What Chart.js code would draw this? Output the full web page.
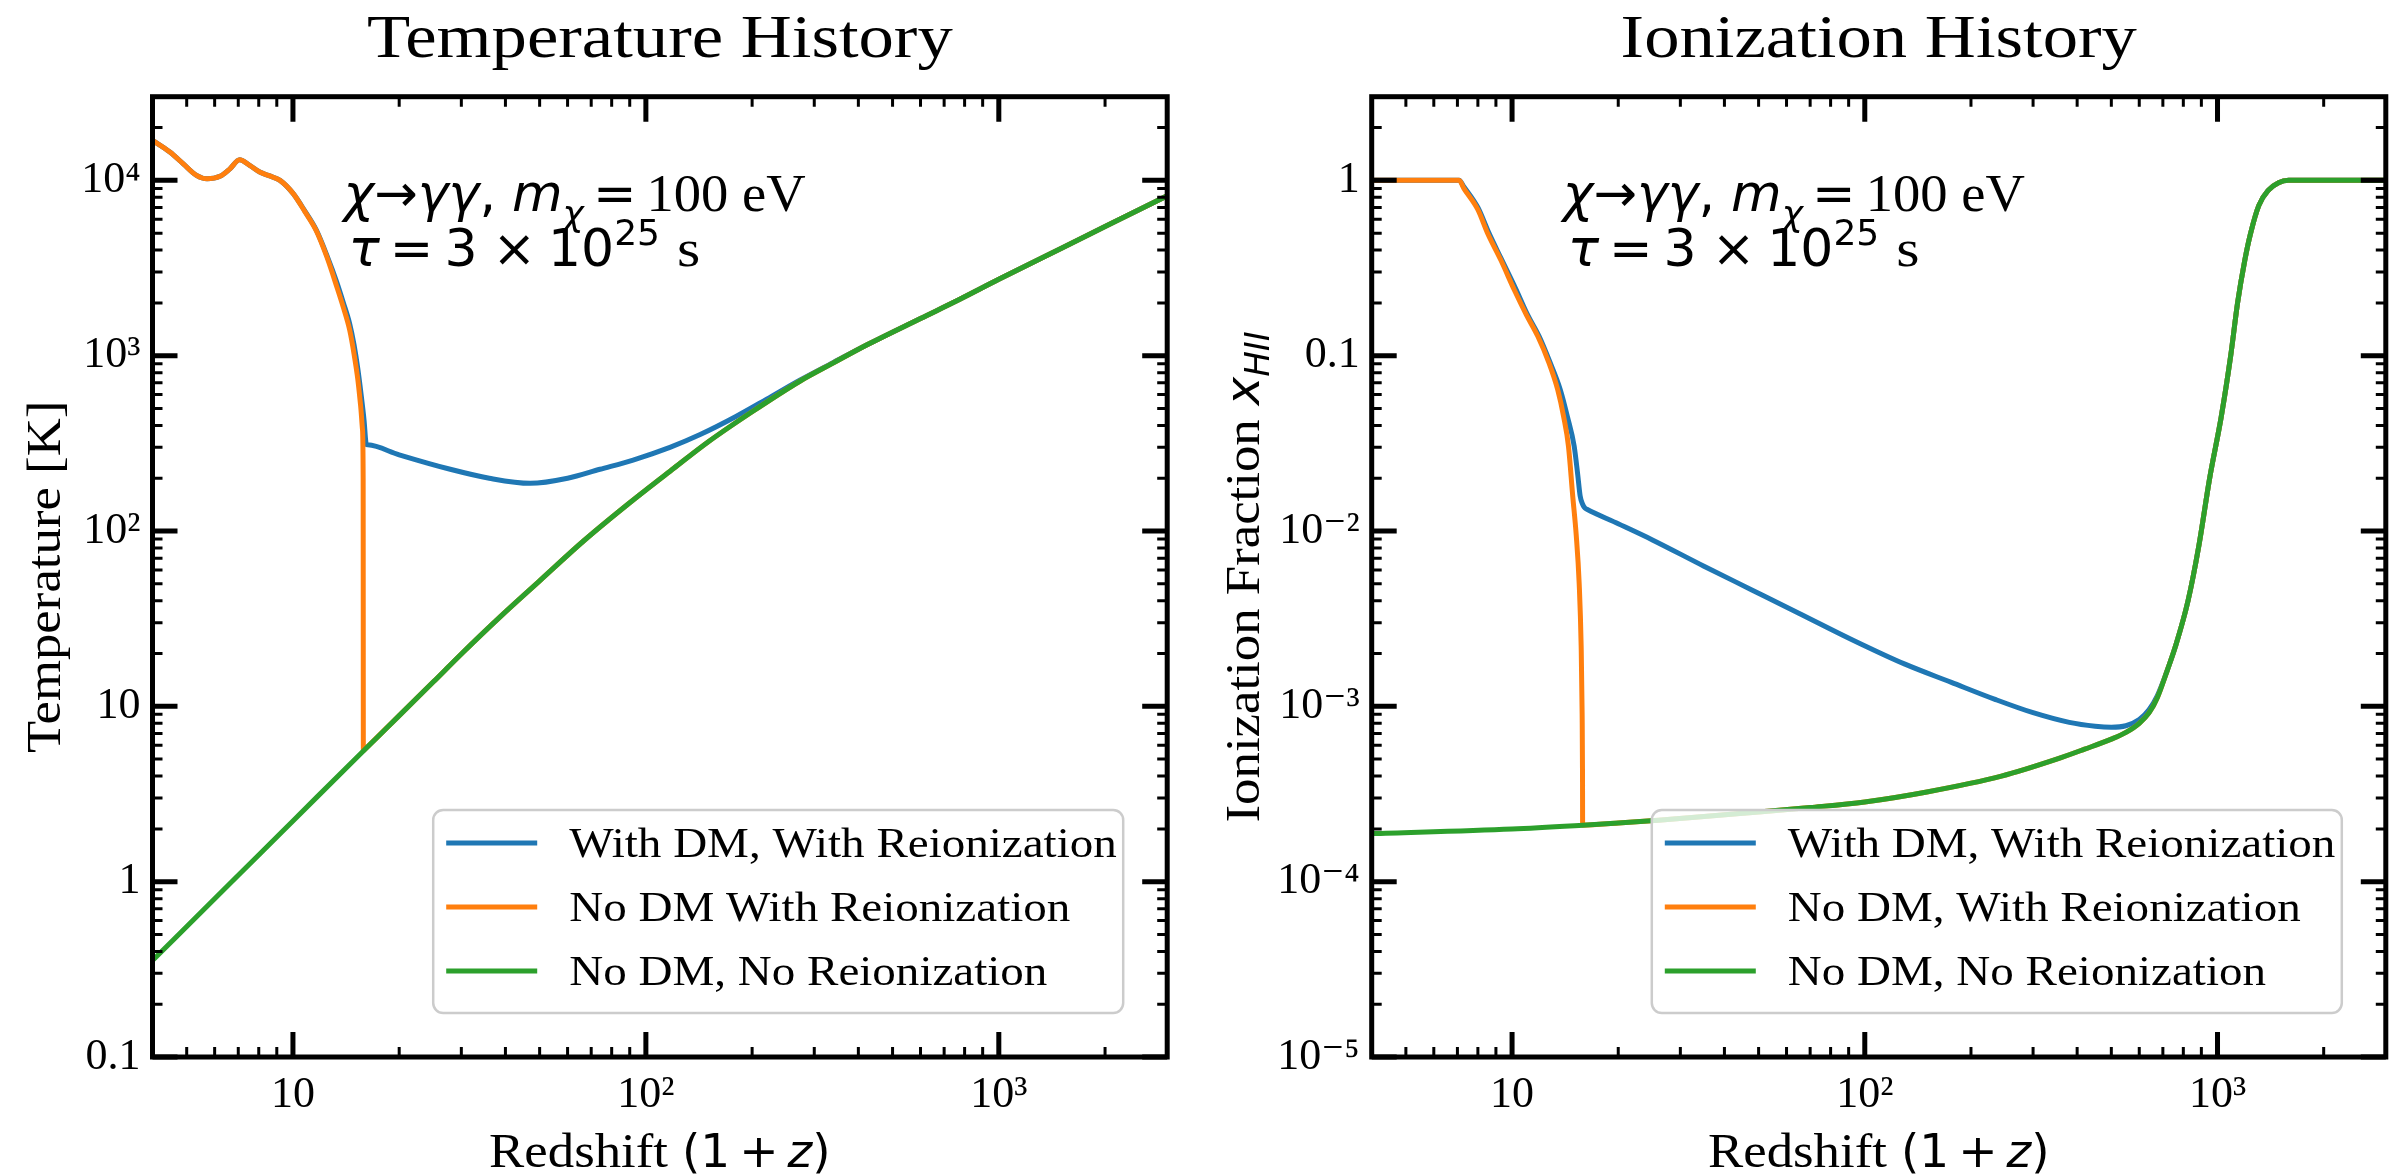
<!DOCTYPE html>
<html>
<head>
<meta charset="utf-8">
<title>Temperature and Ionization History</title>
<script src="https://cdn.jsdelivr.net/npm/chart.js@4.4.1/dist/chart.umd.min.js"></script>
<style>
    html, body { margin: 0; padding: 0; background: #fff; }
    #wrap { position: relative; width: 2402px; height: 1174px; }
    canvas { position: absolute; top: 0; }
    #temp-chart { left: 0; }
    #ion-chart { left: 1190px; }
</style>
</head>
<body>
<div id="wrap">
    <canvas id="temp-chart" width="1190" height="1174"></canvas>
    <canvas id="ion-chart" width="1212" height="1174"></canvas>
</div>
<script>
// Values, x is the redshift (1 + z)

// Temperature history [K]
const tempDmZ = [4, 4.48, 4.89, 5.33, 5.71, 6.21, 6.63, 7.06, 7.54, 8.05, 8.6, 9.19, 10.02, 10.8, 11.65,
    12.5, 13.29, 13.9, 14.48, 14.9, 15.27, 15.6, 15.9, 16.14, 16.3, 20, 27.9, 36, 47, 60,
    74.1, 92, 117, 142.5, 180, 220, 273, 340, 422, 600, 773, 1000, 1500, 2000, 3000];
const tempDmT = [16900, 14500, 12420, 10670, 10200, 10540, 11640, 13100, 12170, 11150, 10600, 10000, 8400, 6700, 5200,
    3700, 2650, 2000, 1520, 1150, 840, 600, 430, 312, 310, 272, 225, 200, 187, 200,
    225, 254, 300, 355, 450, 565, 725, 915, 1150, 1630, 2090, 2725, 4090, 5450, 8170];

const tempNoDmZ = [4, 4.48, 4.89, 5.33, 5.71, 6.21, 6.63, 7.06, 7.54, 8.05, 8.6, 9.19, 10.02, 10.8, 11.65,
    12.5, 13.29, 13.9, 14.48, 14.9, 15.27, 15.55, 15.74, 15.81, 15.83, 15.84, 20, 25, 30, 38.7,
    50, 66.7, 90, 120, 150, 200, 273, 340, 422, 600, 773, 1000, 1500, 2000, 3000];
const tempNoDmT = [16900, 14500, 12420, 10670, 10200, 10540, 11640, 13100, 12170, 11150, 10600, 10000, 8400, 6650, 5150,
    3620, 2500, 1880, 1400, 1020, 731, 520, 380, 200, 5.57, 5.577, 8.85, 13.8, 19.9, 32.5,
    52, 88, 145, 228, 322, 479, 715, 910, 1150, 1630, 2090, 2725, 4090, 5450, 8170];

const tempBaseZ = [4, 6, 8, 10, 15.83, 20, 25, 30, 38.7, 50, 66.7, 90, 120, 150, 200, 273, 340, 422,
    600, 773, 1000, 1500, 2000, 3000];
const tempBaseT = [0.355, 0.8, 1.42, 2.22, 5.57, 8.85, 13.8, 19.9, 32.5, 52, 88, 145, 228, 322, 479, 715, 910, 1150,
    1630, 2090, 2725, 4090, 5450, 8170];

// Ionization fraction x_HII
const ionDmZ = [4, 7.08, 7.3, 8.0, 8.6, 9.3, 10.25, 11.05, 11.95, 12.8, 13.7, 14.35, 15.0, 15.35, 15.6,
    15.85, 16.1, 16.3, 20, 25, 35, 48, 65, 92, 130, 176, 233, 300, 380, 450,
    500, 550, 600, 640, 675, 720, 760, 825, 885, 950, 1025, 1090, 1140, 1195, 1240,
    1310, 1395, 1490, 1590, 2000, 3000];
const ionDmX = [1, 1, 0.92, 0.7, 0.5, 0.36, 0.24, 0.172, 0.128, 0.092, 0.064, 0.045, 0.0305, 0.021, 0.0158,
    0.0142, 0.0135, 0.0133, 0.011, 0.0089, 0.0063, 0.0046, 0.0034, 0.0024, 0.00174, 0.00137, 0.0011, 0.00092, 0.00081, 0.00077,
    0.00076, 0.000775, 0.00084, 0.00096, 0.00115, 0.0016, 0.0022, 0.004, 0.0082, 0.02, 0.045, 0.1, 0.2, 0.35, 0.495,
    0.72, 0.88, 0.97, 1, 1, 1];

const ionNoDmZ = [4, 7.08, 7.3, 8.0, 8.53, 9.3, 10.15, 11.0, 11.83, 12.7, 13.47, 14.0, 14.45, 14.86, 15.2,
    15.5, 15.7, 15.8, 15.84, 15.85, 20, 26, 35, 50, 70, 100, 150, 244, 350, 420,
    500, 550, 600, 640, 675, 720, 760, 825, 885, 950, 1025, 1090, 1140, 1195, 1240,
    1310, 1395, 1490, 1590, 2000, 3000];
const ionNoDmX = [1, 1, 0.9, 0.68, 0.497, 0.35, 0.237, 0.17, 0.129, 0.092, 0.064, 0.045, 0.0305, 0.0158, 0.0095,
    0.005, 0.0022, 0.0009, 0.0004, 0.00021, 0.000216, 0.000224, 0.000235, 0.00025, 0.000265, 0.000285, 0.000325, 0.0004, 0.0005, 0.00057,
    0.00065, 0.00071, 0.0008, 0.00092, 0.00112, 0.0016, 0.0022, 0.004, 0.0082, 0.02, 0.045, 0.1, 0.2, 0.35, 0.495,
    0.72, 0.88, 0.97, 1, 1, 1];

const ionBaseZ = [4, 10, 15.85, 20, 26, 35, 50, 70, 100, 150, 244, 350, 420, 500, 550,
    600, 640, 675, 720, 760, 825, 885, 950, 1025, 1090, 1140, 1195, 1240, 1310, 1395,
    1490, 1590, 2000, 3000];
const ionBaseX = [0.000188, 0.0002, 0.00021, 0.000216, 0.000224, 0.000235, 0.00025, 0.000265, 0.000285, 0.000325, 0.0004, 0.0005, 0.00057, 0.00065, 0.00071,
    0.0008, 0.00092, 0.00112, 0.0016, 0.0022, 0.004, 0.0082, 0.02, 0.045, 0.1, 0.2, 0.35, 0.495, 0.72, 0.88,
    0.97, 1, 1, 1];

const tempLabels = ['With DM, With Reionization', 'No DM With Reionization', 'No DM, No Reionization'];
const ionLabels = ['With DM, With Reionization', 'No DM, With Reionization', 'No DM, No Reionization'];

// axes
const xRange = [4, 3000];
const tempRange = [0.1, 30000];
const ionRange = [1e-5, 3];
const xMajorTicks = [10, 100, 1000];
const xTickLabels = ['10', '10²', '10³'];
const tempMajorTicks = [0.1, 1, 10, 100, 1000, 10000];
const tempTickLabels = ['0.1', '1', '10', '10²', '10³', '10⁴'];
const ionMajorTicks = [1e-5, 1e-4, 1e-3, 1e-2, 0.1, 1];
const ionTickLabels = ['10⁻⁵', '10⁻⁴', '10⁻³', '10⁻²', '0.1', '1'];

const COLORS = ['#1f77b4', '#ff7f0e', '#2ca02c'];
const SERIF = "'Liberation Serif', 'DejaVu Serif', serif";
const MATH = "'DejaVu Sans', sans-serif";
const serif = size => `${size}px ${SERIF}`;
const math = (size, italic) => `${italic ? 'italic ' : ''}${size}px ${MATH}`;

function toPoints(xs, ys) {
    return xs.map((x, i) => ({ x: x, y: ys[i] }));
}

function minorTicks(min, max) {
    const out = [];
    for (let e = Math.floor(Math.log10(min)); e <= Math.ceil(Math.log10(max)); e++) {
        for (let m = 2; m <= 9; m++) {
            const v = m * Math.pow(10, e);
            if (v > min * 1.0001 && v < max * 0.9999) out.push(v);
        }
    }
    return out;
}

// draws a run of text pieces (mixed fonts, sub/superscripts) starting from x
function drawParts(ctx, parts, x, y, align) {
    const widths = parts.map(p => {
        if (p.gap) return p.gap;
        ctx.font = p.font;
        return ctx.measureText(p.text).width * (p.sx || 1);
    });
    const total = widths.reduce((a, b) => a + b, 0);
    let cx = align === 'center' ? x - total / 2 : x;
    parts.forEach((p, i) => {
        if (!p.gap) {
            ctx.save();
            ctx.font = p.font;
            ctx.textAlign = 'left';
            ctx.textBaseline = 'alphabetic';
            ctx.translate(cx, y + (p.dy || 0));
            ctx.scale(p.sx || 1, 1);
            ctx.fillText(p.text, 0, 0);
            ctx.restore();
        }
        cx += widths[i];
    });
}

function tickLines(ctx, values, scale, horizontal, area, len, width) {
    ctx.lineWidth = width;
    ctx.beginPath();
    values.forEach(v => {
        const p = scale.getPixelForValue(v);
        if (horizontal) {
            ctx.moveTo(p, area.bottom); ctx.lineTo(p, area.bottom - len);
            ctx.moveTo(p, area.top); ctx.lineTo(p, area.top + len);
        } else {
            ctx.moveTo(area.left, p); ctx.lineTo(area.left + len, p);
            ctx.moveTo(area.right, p); ctx.lineTo(area.right - len, p);
        }
    });
    ctx.stroke();
}

function drawLegend(chart) {
    const ctx = chart.ctx;
    const area = chart.chartArea;
    const w = 690, h = 203;
    const x0 = area.right - 44 - w;
    const y0 = area.bottom - 44 - h;

    ctx.save();
    ctx.beginPath();
    ctx.roundRect(x0, y0, w, h, 10);
    ctx.fillStyle = 'rgba(255,255,255,0.8)';
    ctx.fill();
    ctx.lineWidth = 2.5;
    ctx.strokeStyle = '#cccccc';
    ctx.stroke();

    chart.data.datasets.forEach((ds, i) => {
        const rowY = y0 + 33 + 64 * i;
        ctx.beginPath();
        ctx.lineWidth = 5;
        ctx.strokeStyle = ds.borderColor;
        ctx.moveTo(x0 + 13, rowY);
        ctx.lineTo(x0 + 104, rowY);
        ctx.stroke();
        ctx.fillStyle = '#000';
        drawParts(ctx, [{ text: ds.label, font: serif(42), sx: 1.12 }], x0 + 136, rowY + 14, 'left');
    });
    ctx.restore();
}

const framePlugin = {
    id: 'frame',
    afterDatasetsDraw(chart, args, opts) {
        const ctx = chart.ctx;
        const area = chart.chartArea;
        const xs = chart.scales.x;
        const ys = chart.scales.y;

        drawLegend(chart);

        ctx.save();
        ctx.strokeStyle = '#000';
        ctx.lineCap = 'butt';
        tickLines(ctx, minorTicks(xRange[0], xRange[1]), xs, true, area, 10, 3);
        tickLines(ctx, xMajorTicks, xs, true, area, 25, 5);
        tickLines(ctx, minorTicks(opts.yRange[0], opts.yRange[1]), ys, false, area, 10, 3);
        tickLines(ctx, opts.yTicks, ys, false, area, 25, 5);

        ctx.lineWidth = 5;
        ctx.lineJoin = 'miter';
        ctx.strokeRect(area.left, area.top, area.right - area.left, area.bottom - area.top);

        // decay channel note
        ctx.fillStyle = '#000';
        const nx = area.left + 191;
        const up = math(52), it = math(52, true);
        drawParts(ctx, [
            { text: 'χ', font: it }, { text: '→', font: up }, { text: 'γγ', font: it },
            { text: ',', font: up }, { gap: 16 }, { text: 'm', font: it },
            { text: 'χ', font: math(36, true), dy: 15 }, { gap: 9 }, { text: '=', font: up }, { gap: 10 },
            { text: '100 eV', font: serif(52), sx: 1.05 }
        ], nx, area.top + 114, 'left');
        drawParts(ctx, [
            { text: 'τ', font: it }, { gap: 10 }, { text: '=', font: up }, { gap: 11 },
            { text: '3', font: up }, { gap: 15 }, { text: '×', font: up }, { gap: 12 },
            { text: '10', font: up }, { text: '25', font: math(36), dy: -21 }, { gap: 17 },
            { text: 's', font: serif(52), sx: 1.15 }
        ], nx + 5, area.top + 169, 'left');
        ctx.restore();
    },
    afterDraw(chart, args, opts) {
        const ctx = chart.ctx;
        const area = chart.chartArea;
        const cx = (area.left + area.right) / 2;
        ctx.save();
        ctx.fillStyle = '#000';
        drawParts(ctx, [{ text: opts.title, font: serif(62), sx: 1.14 }], cx, 57, 'center');

        const mf = math(47);
        drawParts(ctx, [
            { text: 'Redshift', font: serif(48), sx: 1.1 }, { gap: 14 },
            { text: '(1', font: mf }, { gap: 9 }, { text: '+', font: mf }, { gap: 9 },
            { text: 'z', font: math(47, true) }, { text: ')', font: mf }
        ], cx, 1167, 'center');

        ctx.translate(opts.yLabelX, (area.top + area.bottom) / 2);
        ctx.rotate(-Math.PI / 2);
        drawParts(ctx, opts.yLabel, 0, 0, 'center');
        ctx.restore();
    }
};

function buildChart(canvasId, spec) {
    const tickFont = { family: SERIF, size: 44 };
    return new Chart(document.getElementById(canvasId), {
        type: 'line',
        data: {
            datasets: spec.series.map((s, i) => ({
                label: s.label,
                data: toPoints(s.x, s.y),
                borderColor: COLORS[i],
                backgroundColor: COLORS[i],
                borderWidth: 5,
                pointRadius: 0,
                fill: false,
                cubicInterpolationMode: 'monotone',
                borderJoinStyle: 'round',
                order: 2 - i
            }))
        },
        options: {
            responsive: false,
            animation: false,
            devicePixelRatio: 1,
            events: [],
            layout: { padding: { left: 0, top: 96.7, right: spec.padRight, bottom: 0 } },
            plugins: {
                legend: { display: false },
                tooltip: { enabled: false },
                frame: {
                    title: spec.title,
                    yLabel: spec.yLabel,
                    yLabelX: spec.yLabelX,
                    yRange: spec.yRange,
                    yTicks: spec.yTicks
                }
            },
            scales: {
                x: {
                    type: 'logarithmic',
                    min: xRange[0],
                    max: xRange[1],
                    grid: { display: false, drawTicks: false },
                    border: { display: false },
                    afterBuildTicks: scale => { scale.ticks = xMajorTicks.map(v => ({ value: v })); },
                    afterFit: scale => { scale.height = 117; },
                    ticks: {
                        autoSkip: false,
                        maxRotation: 0,
                        padding: 12,
                        color: '#000',
                        font: tickFont,
                        callback: v => xTickLabels[xMajorTicks.indexOf(v)] || ''
                    }
                },
                y: {
                    type: 'logarithmic',
                    min: spec.yRange[0],
                    max: spec.yRange[1],
                    grid: { display: false, drawTicks: false },
                    border: { display: false },
                    afterBuildTicks: scale => { scale.ticks = spec.yTicks.map(v => ({ value: v })); },
                    afterFit: scale => { scale.width = spec.yAxisWidth; },
                    ticks: {
                        autoSkip: false,
                        padding: 12,
                        color: '#000',
                        font: tickFont,
                        callback: v => spec.yTickLabels[spec.yTicks.indexOf(v)] || ''
                    }
                }
            }
        },
        plugins: [framePlugin]
    });
}

buildChart('temp-chart', {
    title: 'Temperature History',
    series: [
        { label: tempLabels[0], x: tempDmZ, y: tempDmT },
        { label: tempLabels[1], x: tempNoDmZ, y: tempNoDmT },
        { label: tempLabels[2], x: tempBaseZ, y: tempBaseT }
    ],
    yRange: tempRange,
    yTicks: tempMajorTicks,
    yTickLabels: tempTickLabels,
    yAxisWidth: 152.5,
    padRight: 22.8,
    yLabelX: 60,
    yLabel: [{ text: 'Temperature [K]', font: serif(48), sx: 1.1 }]
});

buildChart('ion-chart', {
    title: 'Ionization History',
    series: [
        { label: ionLabels[0], x: ionDmZ, y: ionDmX },
        { label: ionLabels[1], x: ionNoDmZ, y: ionNoDmX },
        { label: ionLabels[2], x: ionBaseZ, y: ionBaseX }
    ],
    yRange: ionRange,
    yTicks: ionMajorTicks,
    yTickLabels: ionTickLabels,
    yAxisWidth: 181.7,
    padRight: 16.2,
    yLabelX: 69,
    yLabel: [
        { text: 'Ionization Fraction', font: serif(48), sx: 1.1 }, { gap: 14 },
        { text: 'x', font: math(48, true) },
        { text: 'HII', font: math(34, true), dy: 10 }
    ]
});
</script>
</body>
</html>
